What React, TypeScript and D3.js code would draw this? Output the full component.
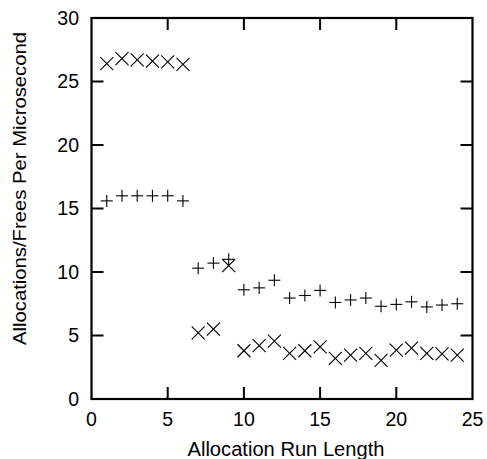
import React from "react";
import * as d3 from "d3";

const runLengths = [1,2,3,4,5,6,7,8,9,10,11,12,13,14,15,16,17,18,19,20,21,22,23,24];
const plusSeries = [15.6,16.0,16.0,16.0,16.0,15.6,10.3,10.7,11.0,8.6,8.75,9.35,7.95,8.15,8.55,7.6,7.8,7.95,7.3,7.45,7.65,7.25,7.4,7.5];
const crossSeries = [26.4,26.8,26.7,26.6,26.55,26.35,5.2,5.5,10.5,3.8,4.2,4.55,3.6,3.8,4.1,3.2,3.45,3.6,3.05,3.85,4.0,3.6,3.55,3.45];
const xTicks = [0,5,10,15,20,25];
const yTicks = [0,5,10,15,20,25,30];
const xTitle = "Allocation Run Length";
const yTitle = "Allocations/Frees Per Microsecond";

const W = 487, H = 459;
const L = 91.5, R = 472.5, T = 18, B = 399;
const FONT = "'Liberation Sans', Arial, Helvetica, sans-serif";

export default function App() {
  const x = d3.scaleLinear().domain([0, 25]).range([L, R]);
  const y = d3.scaleLinear().domain([0, 30]).range([B, T]);
  const tick = 12;
  const ps = 6, cs = 6.5;
  return (
    <svg width={W} height={H} style={{ position: "absolute", left: 0, top: 0, background: "#fff" }}>
      <rect x={0} y={0} width={W} height={H} fill="#fff" />
      {xTicks.map((t) => (
        <g key={"xt" + t}>
          {t > 0 && t < 25 && (
            <>
              <line x1={x(t)} x2={x(t)} y1={B} y2={B - tick} stroke="#000" strokeWidth={2} />
              <line x1={x(t)} x2={x(t)} y1={T} y2={T + tick} stroke="#000" strokeWidth={2} />
            </>
          )}
          <text x={x(t)} y={426} textAnchor="middle" fontFamily={FONT} fontSize={19.5} fill="#000">{t}</text>
        </g>
      ))}
      {yTicks.map((t) => (
        <g key={"yt" + t}>
          {t > 0 && t < 30 && (
            <>
              <line x1={L} x2={L + tick} y1={y(t)} y2={y(t)} stroke="#000" strokeWidth={2} />
              <line x1={R} x2={R - tick} y1={y(t)} y2={y(t)} stroke="#000" strokeWidth={2} />
            </>
          )}
          <text x={79} y={y(t) + 6.5} textAnchor="end" fontFamily={FONT} fontSize={19.5} fill="#000">{t}</text>
        </g>
      ))}
      <rect x={L} y={T} width={R - L} height={B - T} fill="none" stroke="#000" strokeWidth={2.2} />
      {runLengths.map((r, i) => (
        <g key={"p" + r} stroke="#000" strokeWidth={1.1}>
          <line x1={x(r) - ps} x2={x(r) + ps} y1={y(plusSeries[i])} y2={y(plusSeries[i])} />
          <line x1={x(r)} x2={x(r)} y1={y(plusSeries[i]) - ps} y2={y(plusSeries[i]) + ps} />
        </g>
      ))}
      {runLengths.map((r, i) => (
        <g key={"c" + r} stroke="#000" strokeWidth={1.1}>
          <line x1={x(r) - cs} x2={x(r) + cs} y1={y(crossSeries[i]) - cs} y2={y(crossSeries[i]) + cs} />
          <line x1={x(r) - cs} x2={x(r) + cs} y1={y(crossSeries[i]) + cs} y2={y(crossSeries[i]) - cs} />
        </g>
      ))}
      <text x={(L + R) / 2 + 4} y={456} textAnchor="middle" fontFamily={FONT} fontSize={19.5} fill="#000"
        textLength={197} lengthAdjust="spacingAndGlyphs">{xTitle}</text>
      <text transform={`translate(26,188.5) rotate(-90)`} textAnchor="middle" fontFamily={FONT} fontSize={19}
        fill="#000" textLength={313} lengthAdjust="spacingAndGlyphs">{yTitle}</text>
    </svg>
  );
}
